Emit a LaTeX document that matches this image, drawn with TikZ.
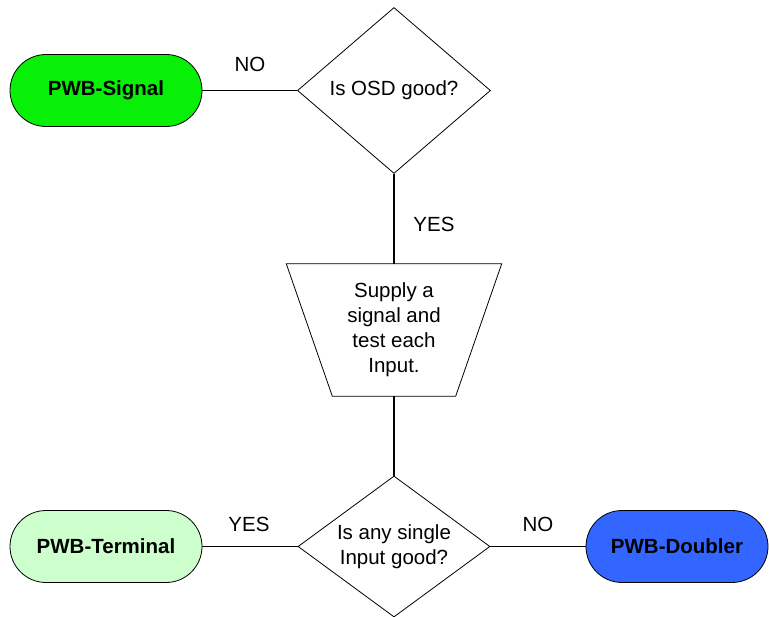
\documentclass[tikz,border=0pt]{standalone}
\usepackage{fontspec}
\setmainfont{Liberation Sans}
\usetikzlibrary{shapes.geometric}
\definecolor{sigGreen}{RGB}{8,240,8}
\definecolor{termGreen}{RGB}{204,255,204}
\definecolor{dblBlue}{RGB}{51,102,255}
\tikzset{
  stadium/.style={draw, line width=0.8pt, minimum height=72pt, rounded corners=36pt,
    font=\fontsize{20.5}{25}\selectfont\bfseries, inner sep=0pt},
  decision/.style={draw, diamond, line width=0.8pt, inner sep=0pt, align=center,
    font=\fontsize{20.5}{25}\selectfont},
  conn/.style={line width=1.3pt},
  lbl/.style={font=\fontsize{20.5}{25}\selectfont, inner sep=0pt}
}
\begin{document}
\begin{tikzpicture}[x=1pt, y=-1pt]
\useasboundingbox (0,0) rectangle (769,617);
\node[stadium, fill=sigGreen, minimum width=192pt] (sig) at (106,90.5) {PWB-Signal};
\node[decision, minimum width=193pt, minimum height=166pt, aspect=1.16] (osd) at (394,90.5) {Is OSD good?};
\node[minimum width=215pt, minimum height=132pt, inner sep=0pt, align=center,
  font=\fontsize{20.5}{25}\selectfont] (sup) at (394,330) {Supply a\\signal and\\test each\\Input.};
\draw[line width=0.8pt] (sup.north west) -- (sup.north east) -- ([xshift=-46pt]sup.south east)
  -- ([xshift=46pt]sup.south west) -- cycle;
\node[decision, minimum width=192pt, minimum height=141pt, aspect=1.36] (any) at (394,546.5) {Is any single\\Input good?};
\node[stadium, fill=termGreen, minimum width=192pt] (term) at (106,546.5) {PWB-Terminal};
\node[stadium, fill=dblBlue, minimum width=182pt] (dbl) at (677,546.5) {PWB-Doubler};
\draw[conn] (sig.east) -- (osd.west);
\draw[conn] (osd.south) -- (sup.north);
\draw[conn] (sup.south) -- (any.north);
\draw[conn] (term.east) -- (any.west);
\draw[conn] (any.east) -- (dbl.west);
\node[lbl] (l1) at (250,64) {NO};
\node[lbl] (l2) at (434,224) {YES};
\node[lbl] (l3) at (249,524) {YES};
\node[lbl] (l4) at (538,524) {NO};
\end{tikzpicture}
\end{document}
